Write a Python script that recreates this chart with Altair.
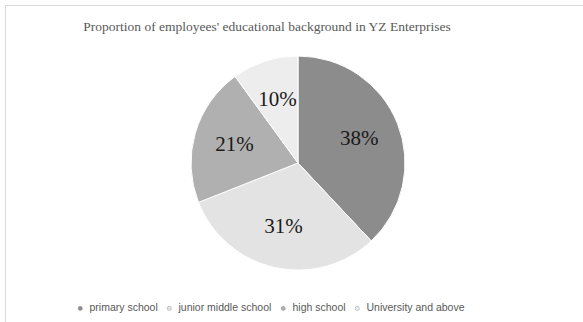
import altair as alt
import pandas as pd

title_text = "Proportion of employees' educational background in YZ Enterprises"
categories = ["primary school", "junior middle school", "high school", "University and above"]
values = [38, 31, 21, 10]
labels = ["38%", "31%", "21%", "10%"]
colors = ["#8c8c8c", "#e3e3e3", "#b0b0b0", "#ededed"]

df = pd.DataFrame({"cat": categories, "val": values, "label": labels, "order": list(range(len(values)))})

cx, cy = 293, 158

base = alt.Chart(df).encode(
    theta=alt.Theta("val:Q", stack=True),
    order=alt.Order("order:Q"),
)

arcs = base.mark_arc(outerRadius=107, stroke="#ffffff", strokeWidth=1).encode(
    x=alt.value(cx), y=alt.value(cy),
    color=alt.Color("cat:N", sort=categories,
                    scale=alt.Scale(domain=categories, range=colors),
                    legend=alt.Legend(title=None, orient="none", direction="horizontal",
                                      legendX=70, legendY=298,
                                      labelFont="Liberation Sans", labelFontSize=10.5,
                                      labelColor="#595959", symbolType="circle",
                                      symbolSize=18, symbolStrokeColor="#999999",
                                      symbolStrokeWidth=0.5,
                                      columnPadding=6, labelOffset=4)),
)

text = base.mark_text(radius=66, font="Liberation Serif", fontSize=21, color="#1a1a1a").encode(
    x=alt.value(cx), y=alt.value(cy),
    text="label:N",
)

title = alt.Chart(pd.DataFrame({"t": [title_text]})).mark_text(
    font="Liberation Serif", fontSize=13.5, color="#595959", align="center", baseline="middle"
).encode(x=alt.value(262), y=alt.value(22), text="t:N")

chart = (arcs + text + title).properties(
    width=578, height=317,
    padding={"left": 5, "top": 5, "right": 0, "bottom": 0},
    autosize=alt.AutoSizeParams(type="none"),
).configure_view(stroke="#d9d9d9", strokeWidth=1)

chart.save("out.html", embed_options={"renderer": "svg", "actions": False})
